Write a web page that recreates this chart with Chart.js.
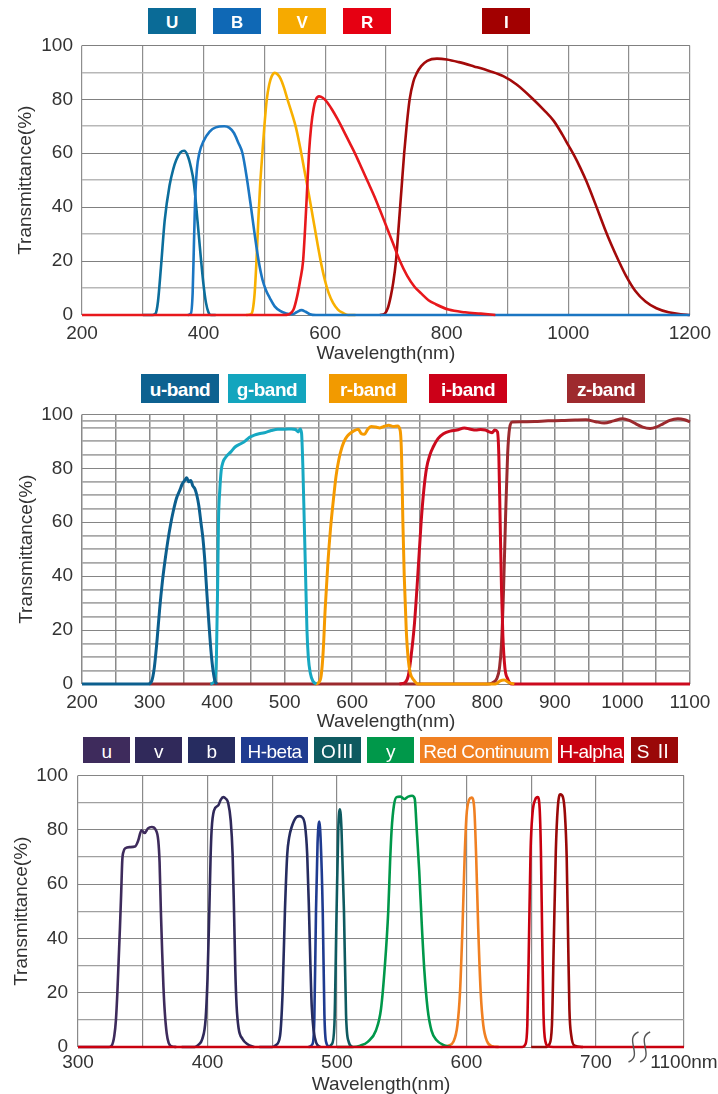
<!DOCTYPE html>
<html>
<head>
<meta charset="utf-8">
<script src="https://cdn.jsdelivr.net/npm/chart.js@4.4.0/dist/chart.umd.min.js"></script>
<style>
  body { margin: 0; background: #fff; width: 718px; height: 1094px; overflow: hidden; position: relative;
         font-family: "Liberation Sans", Arial, sans-serif; }
  canvas { position: absolute; left: 0; }
  .key { position: absolute; color: #fff; text-align: center; white-space: nowrap; overflow: hidden; }
</style>
</head>
<body>
<canvas id="c1" width="718" height="345" style="top:25px"></canvas>
<canvas id="c2" width="718" height="341" style="top:394px"></canvas>
<canvas id="c3" width="718" height="343" style="top:754px"></canvas>
<script>
// ---------- chart 1 : U B V R I ----------
const names1 = ['U', 'B', 'V', 'R', 'I']
const U_wl = [300, 316, 321, 325, 330, 336, 344, 350, 355, 362, 368, 374, 379, 384, 390, 396, 400, 404, 408, 412, 420]
const U_t  = [0, 0, 0.5, 5, 18, 35, 48, 54, 57.5, 60.3, 60.9, 59, 55, 49, 35, 20, 11, 4.5, 1, 0, 0]
const B_wl = [374, 379, 382, 384, 386, 389, 393, 400, 410, 420, 434, 442, 450, 457, 464, 471, 478, 484, 490.6, 497, 503, 509, 517, 526, 536, 546, 553, 561, 568, 575, 585, 1200]
const B_t  = [0, 0.5, 8, 25, 42, 54, 60, 64.5, 68, 69.6, 70, 69.5, 67.5, 64, 60, 51, 40, 30, 20, 13, 9, 6.3, 3.2, 1.5, 0.6, 0.3, 1, 1.8, 1.2, 0.3, 0, 0]
const V_wl = [470, 478, 481, 484, 487, 490, 493, 496.7, 500, 504, 508, 512, 517, 522, 527, 532, 538, 545, 552, 559, 566, 573, 580, 587, 594, 600, 606, 613, 621, 630, 638, 650]
const V_t  = [0, 0.3, 2, 8, 20, 35, 48, 60, 70, 80, 85.5, 88.5, 89.8, 89.2, 87.5, 84.5, 80, 75, 69.5, 62, 53.5, 45, 36, 27, 18.5, 12.5, 8, 4.5, 2, 0.7, 0, 0]
const R_wl = [200, 530, 541, 548, 554, 559, 563.7, 567, 570, 573.4, 577, 581, 585, 590, 596, 603, 611, 620, 630, 640, 650, 660, 670, 680, 690, 700, 711, 723, 735, 747, 758, 770, 782, 803, 830, 856, 880]
const R_t  = [0, 0, 0.3, 2, 7, 13, 20, 32, 45, 60, 70, 76.5, 80, 81.1, 80.6, 79, 76.3, 72.8, 68.5, 64, 59.5, 54.5, 49.5, 44.5, 39, 33.3, 27, 20, 14.5, 10.5, 8, 5.5, 4, 2, 1, 0.5, 0]
const I_wl = [690, 698, 703, 708, 712, 716.5, 721, 726, 730, 734, 739, 745, 750.5, 758, 768, 784, 800, 820, 845, 870, 893, 915, 940, 960, 976, 990, 1000, 1010, 1020, 1030, 1044, 1060, 1070, 1082, 1095, 1110, 1127, 1145, 1165, 1185, 1200]
const I_t  = [0, 0.5, 2.5, 7, 12, 20, 33, 48, 60, 70, 80, 86.5, 89.6, 92.3, 94.3, 95.1, 94.8, 93.8, 92.2, 90.5, 88.6, 85.5, 80.5, 76, 72, 67, 63, 59, 54.5, 49.5, 41.5, 32, 26.5, 20.5, 14.5, 9, 5, 2.5, 1, 0.3, 0]
const xGrid1 = [200, 300, 400, 500, 600, 700, 800, 900, 1000, 1100, 1200]
const xLabels1 = [200, 400, 600, 800, 1000, 1200]
const yGrid1 = [0, 10, 20, 30, 40, 50, 60, 70, 80, 90, 100]
const yLabels1 = [0, 20, 40, 60, 80, 100]

// ---------- chart 2 : u g r i z bands ----------
const names2 = ['u-band', 'g-band', 'r-band', 'i-band', 'z-band']
const uB_wl = [200, 298, 303, 307, 311, 315, 319, 323, 327, 331, 335, 340, 345, 348, 352, 355, 358, 361, 364, 367, 370, 373, 376, 379, 382, 385, 388, 391, 394, 397, 400]
const uB_t  = [0, 0, 1, 6, 16, 28, 38, 46, 53, 59, 64, 69, 72, 74, 75.5, 76.5, 75, 75.5, 73.5, 72.5, 70, 66, 60, 54, 45, 33, 22, 12, 5, 1, 0]
const gB_wl = [390, 396, 399, 401, 402, 404, 406, 409, 414, 420, 427, 434, 441, 448, 455, 462, 470, 480, 490, 500, 510, 516, 520, 523, 525, 527, 529, 531, 533, 535, 538, 542, 547]
const gB_t  = [0, 1, 10, 40, 60, 72, 79, 82.5, 84.5, 86, 88, 89, 90, 91.5, 92.3, 92.8, 93.2, 94, 94.5, 94.5, 94.6, 94.4, 93.5, 94.6, 93, 80, 60, 40, 20, 10, 4, 1, 0]
const rB_wl = [545, 550, 554, 557, 560, 564, 568, 572, 576, 580, 585, 590, 596, 603, 609, 613, 618, 623, 628, 635, 641, 648, 654, 661, 667, 671, 673, 675, 677, 680, 683, 686, 691, 697, 760, 812, 819, 825, 832, 840]
const rB_t  = [0, 0.5, 3, 12, 28, 45, 58, 68, 77, 83, 88, 91, 92.8, 94, 94.5, 93, 92.6, 94.5, 95.5, 95.3, 95, 95.6, 96, 95.5, 95.7, 94, 85, 60, 40, 20, 9, 4, 1.5, 0, 0, 0, 1.2, 1.5, 0.5, 0]
const iB_wl = [670, 678, 683, 687, 692, 697, 702, 706, 710, 715, 720, 727, 735, 745, 755, 766, 775, 783, 790, 797, 803, 807, 811, 815, 817, 819, 821, 823, 826, 830, 836, 1100]
const iB_t  = [0, 0.5, 3, 10, 22, 40, 60, 72, 80, 85, 88, 91, 92.8, 93.8, 94.2, 95, 94.5, 94.2, 94.4, 94.2, 93.5, 93.2, 94.2, 93.5, 85, 60, 35, 18, 6, 2, 0, 0]
const zB_wl = [300, 800, 808, 814, 818, 821, 824, 827, 830, 833, 837, 850, 870, 890, 910, 930, 946, 960, 973, 987, 1000, 1010, 1020, 1030, 1041, 1050, 1060, 1070, 1082, 1092, 1100]
const zB_t  = [0, 0, 0.5, 2, 6, 15, 35, 62, 85, 95, 97.2, 97.3, 97.4, 97.6, 97.7, 97.9, 98, 97.3, 96.8, 97.6, 98.4, 97.8, 96.5, 95.3, 94.8, 95.3, 96.5, 97.8, 98.4, 98, 97.2]
const xGrid2 = [200, 250, 300, 350, 400, 450, 500, 550, 600, 650, 700, 750, 800, 850, 900, 950, 1000, 1050, 1100]
const xLabels2 = [200, 300, 400, 500, 600, 700, 800, 900, 1000, 1100]
const yGrid2 = [0, 5, 10, 15, 20, 25, 30, 35, 40, 45, 50, 55, 60, 65, 70, 75, 80, 85, 90, 95, 97.5, 100]
const yLabels2 = [0, 20, 40, 60, 80, 100]

// ---------- chart 3 : narrow band set ----------
const names3 = ['u', 'v', 'b', 'H-beta', 'OⅢ', 'y', 'Red Continuum', 'H-alpha', 'S Ⅱ']
const u3_wl = [300, 324, 326, 328, 329.3, 330.4, 331.4, 332.4, 333.3, 334.2, 335.2, 336.5, 340, 344, 346.5, 349, 351.5, 354, 357, 360, 362, 363, 364, 365, 366, 367, 368.5, 370, 372, 376]
const u3_t  = [0, 0, 0.5, 4, 10, 20, 32, 44, 56, 68.7, 72, 73.2, 73.6, 73.8, 76, 79.8, 78.8, 80.5, 81, 80, 76, 68, 50, 35, 22, 13, 5, 1.5, 0.3, 0]
const v3_wl = [380, 390, 393, 396, 398.5, 400, 401.4, 402.4, 403.2, 405, 408.4, 410.2, 412.2, 414, 416, 417.9, 419.4, 420.5, 421.5, 422.5, 424, 427, 431, 436]
const v3_t  = [0, 0, 0.8, 3, 10, 25, 50, 70, 80, 87, 89, 91, 92, 91.5, 89.8, 83.5, 71, 50, 28, 15, 7, 3, 1, 0]
const b3_wl = [440, 450, 453, 456, 458, 459.8, 461.6, 463, 465, 468.8, 471, 472.7, 475.3, 477, 478.4, 479.5, 480.5, 482, 484, 487]
const b3_t  = [0, 0, 0.8, 4, 20, 50, 71, 77, 81, 84.7, 85, 84.7, 81.6, 71, 50, 30, 15, 6, 1.5, 0]
const hb_wl = [478, 481, 482.5, 483.8, 485, 486.3, 487.5, 489, 490.3, 491.5, 494]
const hb_t  = [0, 1, 10, 50, 75, 83, 75, 50, 12, 2, 0]
const o3_wl = [493, 496, 498, 499.7, 501, 502.3, 503.5, 505.4, 507, 509, 512]
const o3_t  = [0, 1, 8, 50, 80, 87.5, 80, 50, 12, 2, 0]
const y3_wl = [500, 512, 518, 524, 530, 534, 537, 539.6, 541, 542.2, 544, 546, 549, 552, 555, 558, 560, 561.6, 563.5, 565.5, 567.5, 570, 573, 577, 582, 588]
const y3_t  = [0, 0, 0.5, 2, 6, 14, 30, 50, 68, 80, 89, 92, 92.2, 91.3, 92.2, 92.5, 91.5, 80, 65, 45, 28, 14, 6, 2.5, 0.8, 0]
const rc_wl = [580, 586, 590, 593, 595, 597, 598.6, 600, 602, 604, 606, 607.5, 609, 611, 613, 616, 620, 625]
const rc_t  = [0, 0.5, 2, 8, 20, 45, 70, 85, 91, 91.8, 88, 70, 45, 20, 8, 2, 0.3, 0]
const ha_wl = [300, 643, 645.5, 647, 648.3, 649.5, 651, 653, 655, 656.5, 657.5, 658.5, 659.5, 661, 663, 667, 768]
const ha_t  = [0, 0, 1, 8, 40, 72, 86, 91, 92, 88, 72, 40, 12, 2, 0.3, 0, 0]
const s2_wl = [650, 661, 664, 666, 667.5, 669, 670.5, 672.5, 674.5, 676, 677.4, 678.5, 679.5, 681, 683.5, 690]
const s2_t  = [0, 0, 1, 8, 40, 72, 88, 93, 92, 86, 70, 40, 14, 4, 0.5, 0]
const xGrid3 = [300, 350, 400, 450, 500, 550, 600, 650, 700]
const xLabels3 = [300, 400, 500, 600, 700]
const axisEnd3 = 768          // where the broken axis ends
const axisEndLabel3 = '1100nm'
const breakAt3 = [729, 738]
const yGrid3 = [0, 10, 20, 30, 40, 50, 60, 70, 80, 90, 100]
const yLabels3 = [0, 20, 40, 60, 80, 100]

// ---------- styles ----------
const colors1 = ['#0c6e9c', '#1b76c2', '#f8b000', '#e8181c', '#a30a0a']
const keyColors1 = ['#0a6b97', '#0f68b5', '#f6aa00', '#e60012', '#a20000']
const colors2 = ['#0c5f8e', '#17a8c2', '#f59a00', '#cc0a1e', '#9b2a2e']
const keyColors2 = ['#0d6190', '#13a5be', '#f29a00', '#cc0018', '#9e2a2e']
const colors3 = ['#3e2b5c', '#30295a', '#262c60', '#1f3b90', '#0e5a60', '#00984a', '#f08022', '#c9000f', '#9a0808']
const FONT = '"Liberation Sans", Arial, "Noto Sans CJK JP", sans-serif'

Chart.defaults.font.family = FONT
Chart.defaults.color = '#333'

const series = (wl, t) => wl.map((x, i) => ({ x: x, y: t[i] }))

// axis break marks + the label at the end of the broken axis
function breakPlugin(marks, endValue, endLabel) {
  return {
    id: 'breakMarks',
    afterDraw(chart) {
      const xs = chart.scales.x, yb = chart.scales.y.getPixelForValue(0), ctx = chart.ctx
      ctx.save()
      ctx.strokeStyle = '#555'
      ctx.lineWidth = 1.4
      marks.forEach(w => {
        const px = xs.getPixelForValue(w)
        ctx.beginPath()
        ctx.moveTo(px + 5, yb - 15)
        ctx.bezierCurveTo(px - 10, yb - 9, px + 10, yb + 9, px - 5, yb + 15)
        ctx.stroke()
      })
      ctx.fillStyle = '#333'
      ctx.font = '19px ' + FONT
      ctx.textAlign = 'center'
      ctx.textBaseline = 'middle'
      ctx.fillText(endLabel, xs.getPixelForValue(endValue), xs.top + 16)
      ctx.restore()
    }
  }
}

function makeChart(id, sets, names, colors, o) {
  return new Chart(document.getElementById(id), {
    type: 'line',
    data: {
      datasets: sets.map((s, i) => ({
        label: names[i],
        data: series(s[0], s[1]),
        borderColor: colors[i],
        borderWidth: o.lineWidth,
        pointRadius: 0,
        cubicInterpolationMode: 'monotone',
        fill: false,
        clip: 6,
        order: o.order[i]
      }))
    },
    options: {
      responsive: false,
      animation: false,
      events: [],
      layout: { padding: { top: 0, right: o.right, left: 0, bottom: 0 } },
      plugins: { legend: { display: false }, tooltip: { enabled: false } },
      scales: {
        x: {
          type: 'linear', min: o.xMin, max: o.xMax,
          afterBuildTicks: sc => { sc.ticks = o.xGrid.map(v => ({ value: v })) },
          afterFit: sc => { sc.height = o.xH },
          ticks: {
            autoSkip: false, maxRotation: 0, padding: o.xPad, color: '#333', font: { size: 19 },
            callback: v => o.xLabels.includes(v) ? String(v) : ''
          },
          grid: { drawTicks: false, color: o.xGridColor, lineWidth: o.xGridWidth },
          border: { display: false },
          title: { display: true, text: 'Wavelength(nm)', color: '#333', font: { size: 19 },
                   padding: { top: 0, bottom: o.xTitlePad } }
        },
        y: {
          min: 0, max: 100,
          afterBuildTicks: sc => { sc.ticks = o.yGrid.map(v => ({ value: v })) },
          afterFit: sc => { sc.width = o.yW },
          ticks: {
            autoSkip: false, padding: o.yPad, color: '#333', font: { size: 19 },
            callback: v => o.yLabels.includes(v) ? String(v) : ''
          },
          grid: {
            drawTicks: false,
            color: c => o.yLabels.includes(c.tick.value) ? o.yDark : o.yLight,
            lineWidth: c => o.yLabels.includes(c.tick.value) ? 1 : o.yLightWidth
          },
          border: { display: false },
          title: { display: true, text: 'Transmittance(%)', color: '#333', font: { size: 19 },
                   padding: { top: o.yTitlePad, bottom: 0 } }
        }
      }
    },
    plugins: o.plugins || []
  })
}

function addKeys(names, colors, lefts, widths, top, height, font) {
  names.forEach((n, i) => {
    const d = document.createElement('div')
    d.className = 'key'
    d.textContent = n
    d.style.left = lefts[i] + 'px'
    d.style.top = top + 'px'
    d.style.width = widths[i] + 'px'
    d.style.height = height + 'px'
    d.style.lineHeight = (height + 3) + 'px'
    d.style.background = colors[i]
    d.style.font = font
    d.style.lineHeight = (height + 3) + 'px'
    d.style.letterSpacing = '-0.5px'
    document.body.appendChild(d)
  })
}

// chart 1
makeChart('c1',
  [[U_wl, U_t], [B_wl, B_t], [V_wl, V_t], [R_wl, R_t], [I_wl, I_t]],
  names1, colors1, {
    lineWidth: 2.6, order: [2, 1, 2, 0, 3], right: 28,
    xMin: 200, xMax: 1200, xGrid: xGrid1, xLabels: xLabels1, xH: 55, xPad: 7, xTitlePad: 4.6,
    xGridColor: '#8e8e8e', xGridWidth: 1.2,
    yGrid: yGrid1, yLabels: yLabels1, yW: 82, yPad: 9, yTitlePad: 14.6,
    yDark: '#808080', yLight: '#b8b8b8', yLightWidth: 1.6
  })
addKeys(names1, keyColors1, [148, 213, 278, 343, 482], [48, 48, 48, 48, 48], 8, 26, 'bold 17px ' + FONT)

// chart 2
makeChart('c2',
  [[uB_wl, uB_t], [gB_wl, gB_t], [rB_wl, rB_t], [iB_wl, iB_t], [zB_wl, zB_t]],
  names2, colors2, {
    lineWidth: 3, order: [0, 1, 1, 2, 3], right: 28,
    xMin: 200, xMax: 1100, xGrid: xGrid2, xLabels: xLabels2, xH: 51, xPad: 7, xTitlePad: 1.6,
    xGridColor: '#8a8a8a', xGridWidth: 1.5,
    yGrid: yGrid2, yLabels: yLabels2, yW: 82, yPad: 9, yTitlePad: 15,
    yDark: '#858585', yLight: '#a8a8a8', yLightWidth: 1.8
  })
addKeys(names2, keyColors2, [141, 228, 329, 429, 567], [78, 78, 78, 78, 78], 374, 29, 'bold 19px ' + FONT)

// chart 3
makeChart('c3',
  [[u3_wl, u3_t], [v3_wl, v3_t], [b3_wl, b3_t], [hb_wl, hb_t], [o3_wl, o3_t], [y3_wl, y3_t], [rc_wl, rc_t], [ha_wl, ha_t], [s2_wl, s2_t]],
  names3, colors3, {
    lineWidth: 2.6, order: [1, 1, 1, 1, 1, 1, 1, 0, 1], right: 34,
    xMin: 300, xMax: axisEnd3, xGrid: xGrid3.concat([axisEnd3]), xLabels: xLabels3,
    xH: 50, xPad: 4.6, xTitlePad: 0.6,
    xGridColor: '#8a8a8a', xGridWidth: 1.2,
    yGrid: yGrid3, yLabels: yLabels3, yW: 78, yPad: 10, yTitlePad: 10.6,
    yDark: '#858585', yLight: '#a0a0a0', yLightWidth: 1.3,
    plugins: [breakPlugin(breakAt3, axisEnd3, axisEndLabel3)]
  })
addKeys(names3, colors3, [83, 135, 188, 241, 314, 367, 420, 558, 631], [47, 47, 47, 67, 47, 47, 132, 66, 47], 737, 26, '19px ' + FONT)
</script>
</body>
</html>
